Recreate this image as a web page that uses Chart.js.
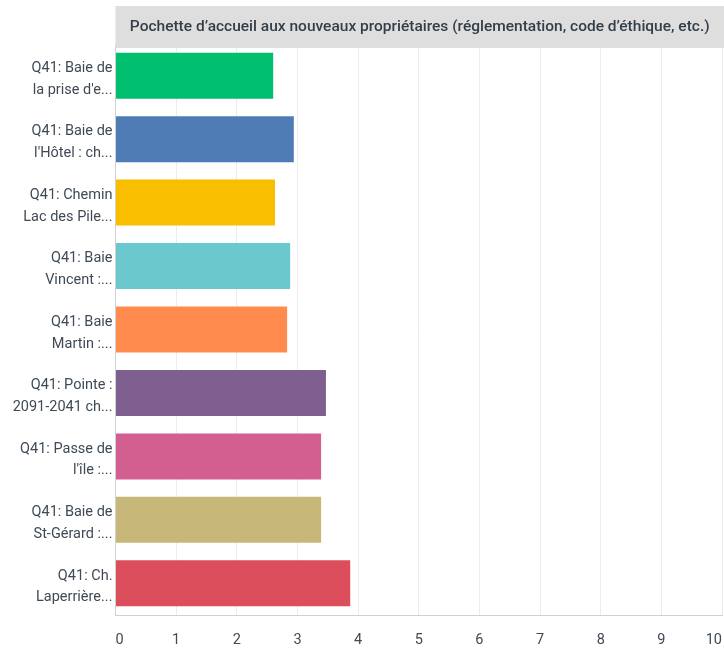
<!DOCTYPE html>
<html>
<head>
<meta charset="utf-8">
<script src="https://cdn.jsdelivr.net/npm/chart.js@4/dist/chart.umd.min.js"></script>
<style>
    html, body { margin: 0; padding: 0; background: #ffffff; }
    #chart-wrap { position: relative; width: 724px; height: 649px; }
</style>
</head>
<body>
<div id="chart-wrap"><canvas id="q41Chart"></canvas></div>
<script>
/**
 * Q41 — average score per sector for the welcome kit item, horizontal bars.
 */

const questionTitle = 'Pochette d’accueil aux nouveaux propriétaires (réglementation, code d’éthique, etc.)';

const sectorLabels = [
    ['Q41: Baie de', 'la prise d\'e...'],
    ['Q41: Baie de', 'l\'Hôtel : ch...'],
    ['Q41: Chemin', 'Lac des Pile...'],
    ['Q41: Baie', 'Vincent :...'],
    ['Q41: Baie', 'Martin :...'],
    ['Q41: Pointe :', '2091-2041 ch...'],
    ['Q41: Passe de', 'l\'île :...'],
    ['Q41: Baie de', 'St-Gérard :...'],
    ['Q41: Ch.', 'Laperrière...']
];

const averageScores = [2.60, 2.94, 2.63, 2.88, 2.83, 3.47, 3.39, 3.39, 3.87];

const sectorColors = ['#00bf6f', '#507cb6', '#f9be00', '#6bc8cd', '#ff8b4f', '#7f5f90', '#d25f90', '#c7b879', '#dc4e5b'];

const xTickValues = [0, 1, 2, 3, 4, 5, 6, 7, 8, 9, 10];

const SurveyBarChart = {
    init() {
        Chart.defaults.font.family = 'Roboto, "Open Sans", sans-serif';
        Chart.defaults.color = '#3f4a55';
        this.drawChart();
    },

    // grey banner with the question text, sitting on top of the plot area
    titleBanner: {
        id: 'titleBanner',
        afterDraw(chart) {
            const { ctx, chartArea } = chart;
            ctx.save();
            ctx.fillStyle = '#dedede';
            ctx.fillRect(chartArea.left, 6, chart.width - chartArea.left, 42);
            ctx.fillStyle = '#333e48';
            ctx.font = '500 15.5px Roboto, sans-serif';
            ctx.textAlign = 'center';
            ctx.textBaseline = 'middle';
            ctx.fillText(questionTitle, (chartArea.left + chart.width) / 2, 27);
            ctx.restore();
        }
    },

    drawChart() {
        const canvas = document.getElementById('q41Chart');
        new Chart(canvas.getContext('2d'), {
            type: 'bar',
            data: {
                labels: sectorLabels,
                datasets: [{
                    data: averageScores,
                    backgroundColor: sectorColors,
                    borderWidth: 0,
                    categoryPercentage: 0.725,
                    barPercentage: 1
                }]
            },
            options: {
                indexAxis: 'y',
                responsive: true,
                maintainAspectRatio: false,
                animation: false,
                layout: { padding: { top: 44, right: 2, bottom: 0, left: 0 } },
                plugins: {
                    legend: { display: false },
                    tooltip: { enabled: false }
                },
                scales: {
                    x: {
                        min: 0,
                        max: 10,
                        afterBuildTicks: (scale) => {
                            scale.ticks = xTickValues.map(v => ({ value: v }));
                        },
                        afterFit: (scale) => {
                            scale.height = 34;
                            scale.paddingLeft = 0;
                            scale.paddingRight = 0;
                        },
                        grid: { color: '#ececec', lineWidth: 1, drawTicks: false },
                        border: { color: '#d0d0d0', width: 1 },
                        ticks: { align: 'inner', padding: 17, font: { size: 14.5 }, color: '#3f4a55' }
                    },
                    y: {
                        afterFit: (scale) => { scale.width = 115.5; },
                        grid: { display: false, drawTicks: false },
                        border: { color: '#d0d0d0', width: 1 },
                        ticks: {
                            padding: 3,
                            labelOffset: 3.5,
                            font: { size: 14.5, lineHeight: 1.5 },
                            color: '#3f4a55'
                        }
                    }
                }
            },
            plugins: [this.titleBanner]
        });
    }
};

document.addEventListener('DOMContentLoaded', () => SurveyBarChart.init());
</script>
</body>
</html>
